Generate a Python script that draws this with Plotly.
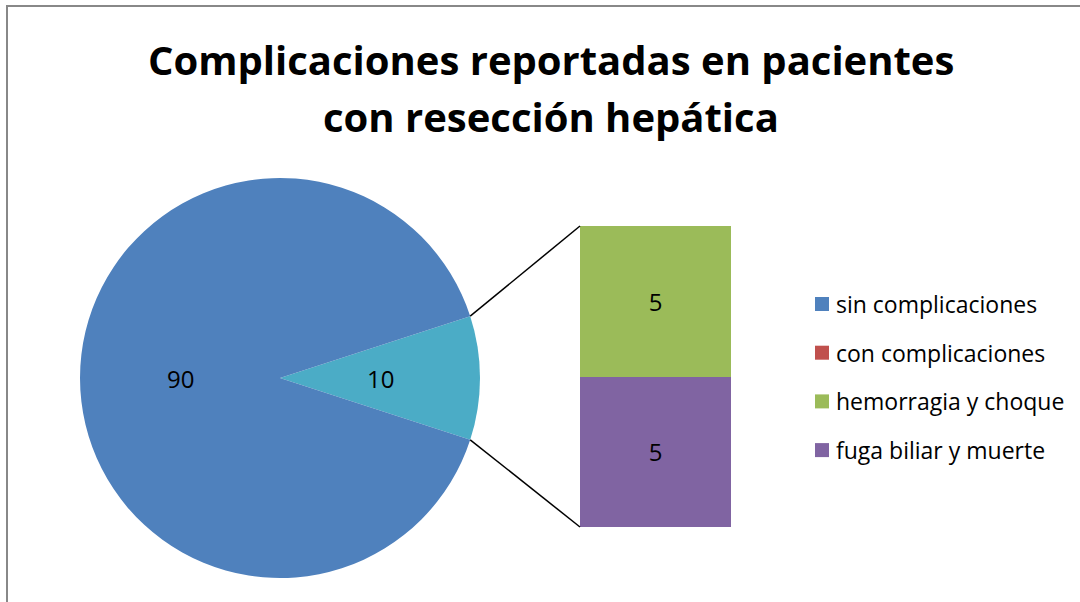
import math
import plotly.graph_objects as go

# datos
pie_labels = ['Otros', 'sin complicaciones']
pie_values = [10, 90]
pie_colors = ['#4BACC6', '#4F81BD']

bar_labels = ['fuga biliar y muerte', 'hemorragia y choque']
bar_values = [5, 5]
bar_colors = ['#8064A2', '#9BBB59']

legend_labels = ['sin complicaciones', 'con complicaciones', 'hemorragia y choque', 'fuga biliar y muerte']
legend_colors = ['#4F81BD', '#C0504D', '#9BBB59', '#8064A2']

W, H = 1080, 602
FONT = 'Open Sans'

def px(x):
    return x / W

def py(y):
    return (H - y) / H

# pie geometry (pixels)
cx, cy, r = 280, 378, 200
half = 360 * pie_values[0] / sum(pie_values) / 2

fig = go.Figure()
fig.add_trace(go.Pie(
    labels=pie_labels, values=pie_values, sort=False, direction='clockwise',
    rotation=90 - half, marker=dict(colors=pie_colors, line=dict(width=0)),
    textinfo='none', showlegend=False, hoverinfo='label+value',
    domain=dict(x=[px(cx - r), px(cx + r)], y=[py(cy + r), py(cy - r)]),
))

annotations = []
# etiquetas de la torta a media distancia del radio (como Excel)
start = -half
for val in pie_values:
    mid = math.radians(start + 360 * val / sum(pie_values) / 2)
    start += 360 * val / sum(pie_values)
    annotations.append(dict(x=px(cx + 0.5 * r * math.cos(mid)), y=py(cy + 0.5 * r * math.sin(mid)),
                            xref='paper', yref='paper', text=str(val), showarrow=False,
                            xanchor='center', yanchor='middle',
                            font=dict(size=24, color='black', family=FONT)))

for lab, val, col in zip(bar_labels, bar_values, bar_colors):
    fig.add_trace(go.Bar(
        x=[0], y=[val], name=lab, marker=dict(color=col, line=dict(width=0)),
        width=1, text=[val], textposition='inside', insidetextanchor='middle',
        textfont=dict(size=24, color='black', family=FONT), showlegend=False,
    ))

bx0, bx1, by0, by1 = 580, 731, 226, 527
ex = cx + r * math.cos(math.radians(half))
ey = r * math.sin(math.radians(half))

shapes = [
    dict(type='rect', xref='paper', yref='paper', x0=px(7), x1=1.05, y0=-0.05, y1=py(6),
         line=dict(color='#888888', width=2), fillcolor='rgba(0,0,0,0)', layer='below'),
    dict(type='line', xref='paper', yref='paper', x0=px(ex), y0=py(cy - ey), x1=px(bx0), y1=py(by0),
         line=dict(color='black', width=1.5)),
    dict(type='line', xref='paper', yref='paper', x0=px(ex), y0=py(cy + ey), x1=px(bx0), y1=py(by1),
         line=dict(color='black', width=1.5)),
]
for i, (lab, col) in enumerate(zip(legend_labels, legend_colors)):
    yc = 304 + i * 48.7
    shapes.append(dict(type='rect', xref='paper', yref='paper', x0=px(815), x1=px(829),
                       y0=py(yc + 7), y1=py(yc - 7), fillcolor=col, line=dict(width=0)))
    annotations.append(dict(x=px(834), y=py(yc), xref='paper', yref='paper', text=lab,
                            showarrow=False, xanchor='left', yanchor='middle',
                            font=dict(size=23, color='black', family=FONT)))

# título en dos líneas
title_lines = ['Complicaciones reportadas en pacientes', 'con resección hepática']
for i, t in enumerate(title_lines):
    annotations.append(dict(x=px(551), y=py(60 + i * 56), xref='paper', yref='paper',
                            text='<b>' + t + '</b>', showarrow=False, xanchor='center', yanchor='middle',
                            font=dict(size=40, color='black', family=FONT)))

fig.update_layout(
    width=W, height=H, margin=dict(l=0, r=0, t=0, b=0),
    paper_bgcolor='white', plot_bgcolor='white', barmode='stack',
    xaxis=dict(domain=[px(bx0), px(bx1)], range=[-0.5, 0.5], visible=False, fixedrange=True),
    yaxis=dict(domain=[py(by1), py(by0)], range=[0, sum(bar_values)], visible=False, fixedrange=True),
    shapes=shapes, annotations=annotations,
)

fig.write_html('out.html', config={'displayModeBar': False},
               post_script="document.body.style.margin='0';")
